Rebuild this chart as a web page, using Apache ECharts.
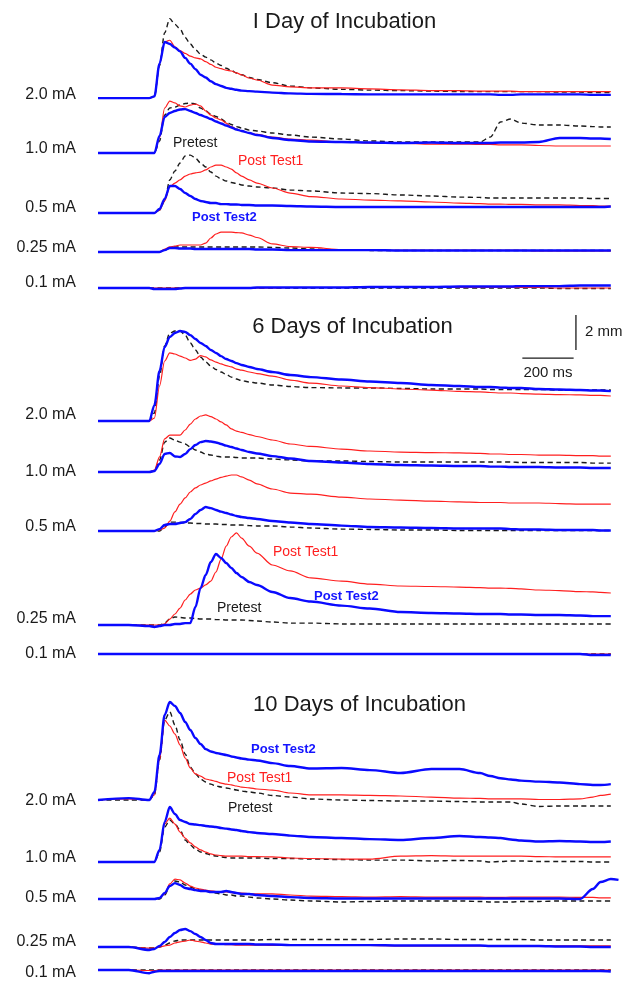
<!DOCTYPE html>
<html>
<head>
<meta charset="utf-8">
<title>Incubation traces</title>
<script src="https://cdn.jsdelivr.net/npm/echarts@6/dist/echarts.min.js"></script>
<style>
  html, body { margin: 0; padding: 0; background: #fff; }
  #traces { width: 624px; height: 986px; }
</style>
</head>
<body>
<div id="traces"></div>
<script>
// sample times (ms) shared by every trace
var timeMs = [0,120,200,220,240,260,280,300,320,340,360,380,400,420,440,460,480,500,520,540,560,590,620,680,750,830,950,1060,1180,1300,1410,1490,1530,1570,1610,1650,1720,1800,1880,1930,1960,2000,2030];

var panelTitles = ['I Day of Incubation', '6 Days of Incubation', '10 Days of Incubation'];
var currents = ['2.0 mA', '1.0 mA', '0.5 mA', '0.25 mA', '0.1 mA'];

// values in mm above each trace's resting baseline
// 1 day
var d1_20_pre = [0,0,0,0.11,2.0,4.0,4.86,4.51,4.23,3.71,3.31,2.97,2.69,2.51,2.34,2.14,2.0,1.83,1.69,1.54,1.43,1.26,1.14,0.94,0.74,0.63,0.54,0.49,0.46,0.43,0.4,0.4,0.4,0.4,0.4,0.4,0.4,0.37,0.37,0.34,0.34,0.34,null];
var d1_20_t1 = [0,0,0,0.11,2.11,3.43,3.54,3.14,2.91,2.74,2.57,2.46,2.4,2.23,2.06,1.89,1.8,1.71,1.66,1.54,1.43,1.23,1.11,0.8,0.69,0.63,0.63,0.57,0.51,0.46,0.46,0.43,0.43,0.43,0.43,0.4,0.4,0.4,0.4,0.4,0.4,0.4,null];
var d1_20_t2 = [0,0,0,0.11,2.11,3.43,3.31,3.09,2.86,2.46,2.11,1.77,1.43,1.26,1.03,0.86,0.74,0.63,0.57,0.51,0.46,0.43,0.4,0.34,0.29,0.26,0.25,0.23,0.23,0.23,0.23,0.23,0.23,0.2,0.2,0.23,0.23,0.23,0.23,0.2,0.2,0.2,null];

var d1_10_pre = [0,0,0,0,0.69,2.17,2.57,2.63,2.74,2.83,2.86,2.8,2.57,2.4,2.23,2.09,1.94,1.77,1.63,1.51,1.43,1.31,1.26,1.14,1.03,0.91,0.8,0.69,0.63,0.63,0.63,0.63,0.91,1.77,1.94,1.71,1.6,1.6,1.54,1.51,1.49,1.49,null];
var d1_10_t1 = [0,0,0,0,0.86,2.57,2.97,2.86,2.69,2.63,2.74,2.8,2.69,2.4,2.17,2.0,1.89,1.71,1.51,1.37,1.26,1.14,1.06,0.91,0.8,0.74,0.63,0.57,0.57,0.51,0.51,0.49,0.49,0.46,0.46,0.46,0.43,0.4,0.4,0.4,0.4,0.4,null];
var d1_10_t2 = [0,0,0,0,0.97,2.06,2.29,2.4,2.49,2.51,2.4,2.29,2.17,2.06,1.94,1.8,1.69,1.57,1.46,1.34,1.26,1.14,1.03,0.86,0.74,0.66,0.63,0.6,0.57,0.6,0.57,0.57,0.57,0.6,0.6,0.6,0.63,0.86,0.86,0.83,0.83,0.8,null];

var d1_05_pre = [0,0,0,0,0.17,0.69,1.89,2.4,2.86,3.26,3.31,3.14,2.86,2.63,2.34,2.11,1.94,1.83,1.74,1.69,1.6,1.54,1.49,1.43,1.31,1.26,1.14,1.11,1.03,0.97,0.91,0.89,0.86,0.86,0.86,0.86,0.86,0.86,0.86,0.83,0.83,0.83,null];
var d1_05_t1 = [0,0,0,0,0.17,0.69,1.49,1.71,1.89,2.11,2.23,2.29,2.34,2.46,2.63,2.74,2.74,2.63,2.51,2.29,2.11,1.89,1.71,1.43,1.14,0.94,0.8,0.74,0.69,0.63,0.57,0.54,0.51,0.51,0.49,0.49,0.46,0.46,0.43,0.43,0.4,0.4,null];
var d1_05_t2 = [0,0,0,0,0.23,0.8,1.54,1.54,1.37,1.14,0.97,0.8,0.69,0.63,0.57,0.57,0.51,0.51,0.49,0.49,0.46,0.46,0.43,0.43,0.4,0.37,0.34,0.34,0.34,0.34,0.34,0.34,0.34,0.34,0.34,0.34,0.34,0.34,0.34,0.34,0.34,0.37,null];

var d1_025_pre = [0,0,0,0,0,0.11,0.23,0.29,0.29,0.29,0.29,0.29,0.29,0.29,0.29,0.29,0.29,0.29,0.29,0.29,0.29,0.29,0.29,0.26,0.23,0.17,0.11,0.09,0.09,0.09,0.09,0.09,0.09,0.09,0.09,0.09,0.09,0.09,0.09,0.09,0.09,0.09,null];
var d1_025_t1 = [0,0,0,0,0,0.17,0.29,0.34,0.4,0.4,0.4,0.4,0.4,0.51,0.8,1.03,1.14,1.14,1.14,1.11,1.09,0.97,0.83,0.46,0.31,0.26,0.14,0.11,0.09,0.09,0.09,0.09,0.09,0.09,0.09,0.09,0.06,0.06,0.06,0.06,0.06,0.06,null];
var d1_025_t2 = [0,0,0,0,0,0.11,0.23,0.23,0.2,0.2,0.2,0.17,0.17,0.17,0.17,0.17,0.17,0.17,0.17,0.17,0.17,0.17,0.14,0.14,0.11,0.11,0.11,0.11,0.09,0.09,0.09,0.09,0.09,0.09,0.09,0.09,0.09,0.09,0.09,0.09,0.09,0.09,null];

var d1_01_pre = [0,0,0,0,0,0,0,0,0,0,0,0,0,0,0,0,0,0,0,0,0,0,0,0,0,0,0,0,0,0,0,0,0,0,0,0,0,-0.03,-0.03,-0.03,-0.03,-0.03,null];
var d1_01_t1 = [0,0,0,0,0,0,0,0,0,0,0,0,0,0,0,0,0,0,0,0,0,0,0,0,0.03,0.03,0.03,0.03,0.03,0.03,0.03,0.03,0.03,0.03,0.03,0.03,0.03,0,0,0,0,0,null];
var d1_01_t2 = [0,0,0,-0.06,-0.06,-0.06,-0.06,-0.06,-0.03,0,0,0,0,0,0,0,0,0,0,0,0,0,0.03,0.03,0.03,0.03,0.03,0.06,0.06,0.06,0.09,0.09,0.09,0.09,0.09,0.11,0.11,0.11,0.14,0.14,0.14,0.14,null];

// 6 days
var d6_20_pre = [0,0,0,0.46,2.57,4.29,5.03,5.14,5.14,4.91,4.46,4.06,3.66,3.37,3.14,2.94,2.8,2.66,2.51,2.4,2.31,2.23,2.17,2.06,1.97,1.91,1.89,1.89,1.86,1.83,1.83,1.83,1.8,1.8,1.8,1.8,1.8,1.77,1.77,1.77,1.77,1.77,null];
var d6_20_t1 = [0,0,0,0.17,2.0,3.43,3.89,3.83,3.71,3.6,3.46,3.54,3.74,3.66,3.49,3.37,3.26,3.17,3.09,2.97,2.91,2.8,2.71,2.57,2.34,2.17,2.0,1.91,1.83,1.77,1.69,1.66,1.63,1.6,1.6,1.57,1.54,1.51,1.49,1.46,1.46,1.43,null];
var d6_20_t2 = [0,0,0,0.91,2.86,4.23,4.8,5.03,5.14,5.09,4.91,4.69,4.46,4.29,4.06,3.89,3.71,3.54,3.43,3.31,3.2,3.09,2.97,2.8,2.63,2.51,2.37,2.26,2.17,2.06,2.0,1.94,1.94,1.91,1.89,1.89,1.83,1.8,1.77,1.74,1.74,1.71,null];

var d6_10_pre = [0,0,0,0.06,0.69,1.71,1.94,1.83,1.71,1.6,1.43,1.26,1.14,1.03,0.97,0.91,0.86,0.86,0.86,0.83,0.8,0.8,0.8,0.74,0.69,0.63,0.63,0.6,0.57,0.57,0.57,0.57,0.57,0.57,0.57,0.54,0.54,0.54,0.54,0.51,0.51,0.51,null];
var d6_10_t1 = [0,0,0,0.11,0.86,1.89,2.11,2.11,2.11,2.4,2.74,3.03,3.2,3.26,3.17,3.03,2.86,2.69,2.46,2.34,2.26,2.14,2.03,1.83,1.6,1.46,1.31,1.2,1.14,1.11,1.09,1.06,1.03,1.03,1.0,1.0,0.97,0.97,0.94,0.94,0.91,0.91,null];
var d6_10_t2 = [0,0,0,0.06,0.46,1.03,1.09,0.89,0.86,1.03,1.31,1.54,1.71,1.77,1.74,1.69,1.6,1.51,1.43,1.34,1.26,1.14,1.06,0.91,0.77,0.63,0.54,0.46,0.4,0.37,0.34,0.34,0.31,0.31,0.29,0.29,0.29,0.26,0.26,0.23,0.23,0.23,null];

var d6_05_pre = [0,0,0,0,0,0.23,0.51,0.51,0.49,0.46,0.46,0.43,0.43,0.4,0.4,0.4,0.37,0.37,0.34,0.34,0.34,0.31,0.29,0.29,0.23,0.17,0.11,0.09,0.06,0.06,0.03,0.03,0.03,0.03,0.03,0.03,0.03,0.03,0.03,0.03,0.03,0.03,null];
var d6_05_t1 = [0,0,0,0,0.06,0.17,0.57,1.09,1.54,1.89,2.23,2.46,2.63,2.74,2.86,2.97,3.06,3.14,3.2,3.2,3.09,2.91,2.69,2.4,2.17,2.11,1.94,1.83,1.77,1.71,1.66,1.63,1.63,1.63,1.6,1.6,1.6,1.57,1.54,1.54,1.54,1.54,null];
var d6_05_t2 = [0,0,0,0,0.11,0.34,0.4,0.4,0.46,0.51,0.69,0.97,1.2,1.37,1.31,1.2,1.11,1.03,0.94,0.86,0.8,0.74,0.69,0.57,0.49,0.4,0.31,0.23,0.2,0.17,0.14,0.14,0.14,0.14,0.11,0.09,0.09,0.06,0.06,0.06,0.03,0.03,null];

var d6_025_pre = [0,0,0,0,0,0.11,0.34,0.46,0.43,0.4,0.4,0.37,0.34,0.34,0.34,0.31,0.31,0.29,0.29,0.29,0.29,0.26,0.23,0.17,0.11,0.11,0.06,0.06,0.06,0.06,0.06,0.06,0.06,0.06,0.06,0.06,0.06,0.06,0.06,0.06,0.06,0.06,null];
var d6_025_t1 = [0,0,0,0,0,0.06,0.34,0.63,0.97,1.43,1.77,2.0,2.11,2.29,2.51,3.03,3.77,4.51,5.03,5.26,4.97,4.51,4.11,3.43,3.09,2.69,2.51,2.34,2.23,2.2,2.17,2.14,2.11,2.11,2.09,2.06,2.0,1.97,1.91,1.89,1.86,1.83,null];
var d6_025_t2 = [0,0,-0.06,-0.11,-0.06,0,0,0.06,0.06,0.11,0.11,1.03,2.11,2.86,3.6,4.06,3.83,3.54,3.26,2.97,2.74,2.46,2.29,1.89,1.54,1.34,1.11,0.94,0.74,0.69,0.66,0.63,0.63,0.63,0.6,0.6,0.57,0.57,0.54,0.51,0.51,0.51,null];

var d6_01_pre = [0,0,0,0,0,0,0,0,0,0,0,0,0,0,0,0,0,0,0,0,0,0,0,0,0,0,0,0,0,0,0,0,0,0,0,0,0,0,0,0,0,0,null];
var d6_01_t1 = [0,0,0,0,0,0,0,0,0,0,0,0,0,0,0,0,0,0,0,0,0,0,0,0,0,0,0,0,0,0,0,0,0,0,0,0,0,0,0,0,0,0,null];
var d6_01_t2 = [0,0,0,0,0,0,0,0,0,0,0,0,0,0,0,0,0,0,0,0,0,0,0,0,0,0,0,0,0,0,0,0,0,0,0,0,0,0,0,-0.06,-0.06,-0.06,null];

// 10 days
var d10_20_pre = [0,0,0,0.29,2.29,4.57,5.03,4.29,3.43,2.63,1.89,1.49,1.2,1.03,0.91,0.8,0.74,0.69,0.63,0.57,0.51,0.46,0.4,0.26,0.17,0.06,0,-0.03,-0.06,-0.06,-0.09,-0.11,-0.11,-0.11,-0.11,-0.23,-0.37,-0.34,-0.34,-0.34,-0.34,-0.34,null];
var d10_20_t1 = [0,0.06,0,0.29,2.29,4.57,4.23,3.77,3.14,2.4,1.83,1.49,1.37,1.2,1.14,1.06,0.97,0.91,0.86,0.8,0.74,0.69,0.63,0.57,0.4,0.29,0.29,0.26,0.23,0.17,0.11,0.09,0.06,0.06,0.06,0.06,0.03,0.03,0.06,0.17,0.26,0.34,null];
var d10_20_t2 = [0,0.11,0,0.46,2.57,4.86,5.6,5.37,4.97,4.46,4.0,3.54,3.2,2.91,2.77,2.69,2.63,2.57,2.49,2.43,2.37,2.31,2.26,2.11,1.94,1.8,1.83,1.71,1.54,1.77,1.77,1.54,1.37,1.24,1.17,1.11,1.05,1.0,0.91,0.86,0.86,0.91,null];

var d10_10_pre = [0,0,0,0,0.57,2.0,2.4,2.17,1.83,1.26,0.97,0.74,0.57,0.49,0.4,0.34,0.29,0.26,0.23,0.23,0.23,0.23,0.23,0.2,0.2,0.17,0.14,0.11,0.11,0.06,0.09,0.06,0,0.03,0.06,0.06,0.03,0.03,0.03,0,0,0,null];
var d10_10_t1 = [0,0,0,0,0.69,2.17,2.51,2.17,1.71,1.37,1.09,0.86,0.69,0.57,0.46,0.4,0.37,0.34,0.34,0.34,0.34,0.31,0.31,0.29,0.23,0.2,0.17,0.17,0.34,0.37,0.34,0.34,0.34,0.34,0.34,0.34,0.31,0.29,0.29,0.29,0.29,0.29,null];
var d10_10_t2 = [0,0,0,0,0.69,2.29,3.14,2.74,2.4,2.29,2.17,2.14,2.11,2.06,2.03,2.0,1.94,1.91,1.86,1.83,1.77,1.71,1.66,1.6,1.51,1.43,1.37,1.31,1.26,1.37,1.49,1.43,1.4,1.37,1.29,1.23,1.17,1.2,1.17,1.14,1.14,1.17,null];

var d10_05_pre = [0,0,0,0,0,0.23,0.74,1.03,0.97,0.8,0.69,0.57,0.51,0.46,0.4,0.34,0.29,0.23,0.23,0.17,0.17,0.11,0.06,0,-0.06,-0.11,-0.17,-0.14,-0.11,-0.11,-0.11,-0.14,-0.17,-0.17,-0.17,-0.14,-0.14,-0.11,-0.11,-0.11,-0.11,-0.11,null];
var d10_05_t1 = [0,0,0,0,0.06,0.29,0.86,1.14,1.09,0.91,0.74,0.63,0.57,0.51,0.46,0.43,0.4,0.4,0.37,0.34,0.34,0.31,0.29,0.29,0.23,0.17,0.14,0.11,0.14,0.11,0.11,0.11,0.09,0.09,0.11,0.11,0.11,0.11,0.09,0.09,0.06,0.06,null];
var d10_05_t2 = [0,0,0,0,0.06,0.34,0.74,0.91,0.8,0.63,0.57,0.51,0.46,0.46,0.4,0.4,0.4,0.46,0.4,0.34,0.29,0.29,0.23,0.17,0.11,0.06,0.03,0.03,0.03,0.03,0.03,0.03,0.03,0.03,0.03,0.03,0.03,0.03,0,0.57,0.97,1.14,1.09];

var d10_025_pre = [0,0,-0.06,-0.06,0,0.11,0.23,0.34,0.4,0.4,0.4,0.4,0.4,0.4,0.4,0.4,0.4,0.4,0.4,0.4,0.4,0.4,0.4,0.43,0.43,0.43,0.43,0.43,0.46,0.46,0.43,0.43,0.43,0.43,0.43,0.43,0.4,0.4,0.4,0.4,0.4,0.4,null];
var d10_025_t1 = [0,0,-0.06,-0.06,0,0.06,0.11,0.23,0.29,0.34,0.4,0.34,0.29,0.23,0.17,0.17,0.17,0.14,0.14,0.11,0.11,0.11,0.11,0.09,0.09,0.09,0.09,0.09,0.06,0.06,0.06,0.06,0.06,0.06,0.06,0.06,0.06,0.06,0.06,0.06,0.06,0.06,null];
var d10_025_t2 = [0,0,-0.17,-0.11,0.06,0.29,0.57,0.8,0.97,1.03,0.91,0.74,0.57,0.4,0.23,0.17,0.17,0.17,0.17,0.17,0.17,0.17,0.14,0.14,0.11,0.11,0.11,0.11,0.09,0.09,0.09,0.09,0.06,0.06,0.06,0.06,0.06,0.03,0.03,0,0,0,null];

var d10_01_pre = [0,0,0,0,0,0,0,0,0,0,0,0,0,0,0,0,0,0,0,0,0,0,0,0,0,0,0,0,0,0,0,0,0,0,0,0,0,0,0,0,0,0,null];
var d10_01_t1 = [0,0,-0.03,-0.03,0,0,0,0,0,0,0,0,0,0,0,0,0,0,0,0,0,0,0,0,0,0,0,0,0,0,0,0,0,0,0,0,0,0,0,0,0,0,null];
var d10_01_t2 = [0,0,-0.2,-0.11,-0.06,-0.06,-0.06,-0.06,-0.06,-0.06,-0.06,-0.06,-0.06,-0.06,-0.06,-0.06,-0.06,-0.06,-0.06,-0.06,-0.06,-0.06,-0.06,-0.06,-0.06,-0.06,-0.06,-0.06,-0.06,-0.06,-0.06,-0.06,-0.06,-0.06,-0.06,-0.06,-0.06,-0.06,-0.06,-0.06,-0.06,-0.09,null];

// scale bar
var scaleBarMs = 200, scaleBarMm = 2;

var rows = [
  [d1_20_pre, d1_20_t1, d1_20_t2], [d1_10_pre, d1_10_t1, d1_10_t2], [d1_05_pre, d1_05_t1, d1_05_t2],
  [d1_025_pre, d1_025_t1, d1_025_t2], [d1_01_pre, d1_01_t1, d1_01_t2],
  [d6_20_pre, d6_20_t1, d6_20_t2], [d6_10_pre, d6_10_t1, d6_10_t2], [d6_05_pre, d6_05_t1, d6_05_t2],
  [d6_025_pre, d6_025_t1, d6_025_t2], [d6_01_pre, d6_01_t1, d6_01_t2],
  [d10_20_pre, d10_20_t1, d10_20_t2], [d10_10_pre, d10_10_t1, d10_10_t2], [d10_05_pre, d10_05_t1, d10_05_t2],
  [d10_025_pre, d10_025_t1, d10_025_t2], [d10_01_pre, d10_01_t1, d10_01_t2]
];

// layout
var FONT = "'Liberation Sans', Arial, sans-serif";
var PX_PER_MM = 17.5;
var Y_MIN = -1, Y_MAX = 6, X_MAX = 2030;
var PLOT_LEFT = 98, PLOT_RIGHT = 5.5;
var rowBaseY = [97, 153, 213, 252, 288, 421, 472, 531, 625, 654, 800, 862, 899, 947, 979];
var labelY = [95, 149, 208, 248, 283, 415, 472, 527, 619, 654, 801, 858, 898, 942, 973];

var traceStyle = [
  { color: '#1a1a1a', width: 1.4, type: [5, 3.5], z: 2 },
  { color: '#ff1f1f', width: 1.2, type: 'solid', z: 3 },
  { color: '#0a0aff', width: 2.4, type: 'solid', z: 4 }
];

var myChart = echarts.init(document.getElementById('traces'), null, { renderer: 'canvas' });

var grids = [], xAxes = [], yAxes = [], series = [];

function hiddenX(idx) {
  return { type: 'value', gridIndex: idx, min: 0, max: X_MAX, show: false, splitLine: { show: false } };
}

for (var r = 0; r < rows.length; r++) {
  grids.push({
    left: PLOT_LEFT, right: PLOT_RIGHT,
    top: rowBaseY[r] - Y_MAX * PX_PER_MM,
    height: (Y_MAX - Y_MIN) * PX_PER_MM
  });
  xAxes.push(hiddenX(r));
  yAxes.push({ type: 'value', gridIndex: r, min: Y_MIN, max: Y_MAX, show: false, splitLine: { show: false } });

  for (var k = 0; k < 3; k++) {
    var vals = rows[r][k];
    var pts = [];
    for (var i = 0; i < timeMs.length; i++) {
      pts.push([timeMs[i], vals[i] == null ? null : vals[i]]);
    }
    series.push({
      type: 'line',
      xAxisIndex: r, yAxisIndex: r,
      data: pts,
      symbol: 'none', showSymbol: false,
      smooth: 0.3, smoothMonotone: 'x',
      clip: false, silent: true,
      z: traceStyle[k].z,
      lineStyle: { color: traceStyle[k].color, width: traceStyle[k].width, type: traceStyle[k].type }
    });
  }
}

// scale bar grid, same ms and mm scale as the traces
var sIdx = rows.length;
grids.push({ left: PLOT_LEFT, right: PLOT_RIGHT, top: 315, height: 2.6 * PX_PER_MM });
xAxes.push(hiddenX(sIdx));
yAxes.push({ type: 'value', gridIndex: sIdx, min: -0.6, max: 2, show: false, splitLine: { show: false } });
var barStart = 1655, barLevel = -0.46, vBarAt = 1864;
series.push({
  type: 'line', xAxisIndex: sIdx, yAxisIndex: sIdx, symbol: 'none', silent: true, clip: false,
  lineStyle: { color: '#1a1a1a', width: 1.3 },
  data: [[barStart, barLevel], [barStart + scaleBarMs, barLevel]]
});
series.push({
  type: 'line', xAxisIndex: sIdx, yAxisIndex: sIdx, symbol: 'none', silent: true, clip: false,
  lineStyle: { color: '#1a1a1a', width: 1.3 },
  data: [[vBarAt, 0], [vBarAt, scaleBarMm]]
});

// texts
var graphics = [];
function txt(x, y, s, size, color, align, bold) {
  graphics.push({
    type: 'text', x: x, y: y, silent: true,
    style: {
      text: s, fill: color, textAlign: align, textVerticalAlign: 'middle',
      font: (bold ? 'bold ' : '') + size + 'px ' + FONT
    }
  });
}
var titlePos = [[344.5, 22], [352.5, 327], [359.5, 705]];
for (var p = 0; p < 3; p++) txt(titlePos[p][0], titlePos[p][1], panelTitles[p], 22, '#1a1a1a', 'center');
for (var r2 = 0; r2 < rows.length; r2++) txt(76, labelY[r2], currents[r2 % 5], 16, '#1a1a1a', 'right');

txt(173, 143, 'Pretest', 14, '#1a1a1a', 'left');
txt(238, 161, 'Post Test1', 14, '#ff1f1f', 'left');
txt(192, 217, 'Post Test2', 13, '#1414ff', 'left', true);

txt(273, 552, 'Post Test1', 14, '#ff1f1f', 'left');
txt(217, 608, 'Pretest', 14, '#1a1a1a', 'left');
txt(314, 596, 'Post Test2', 13, '#1414ff', 'left', true);

txt(251, 749, 'Post Test2', 13, '#1414ff', 'left', true);
txt(227, 778, 'Post Test1', 14, '#ff1f1f', 'left');
txt(228, 808, 'Pretest', 14, '#1a1a1a', 'left');

txt(585, 332, scaleBarMm + ' mm', 15, '#1a1a1a', 'left');
txt(548, 373, scaleBarMs + ' ms', 15, '#1a1a1a', 'center');

var option = {
  backgroundColor: '#ffffff',
  animation: false,
  grid: grids,
  xAxis: xAxes,
  yAxis: yAxes,
  series: series,
  graphic: graphics
};
myChart.setOption(option);
</script>
</body>
</html>
